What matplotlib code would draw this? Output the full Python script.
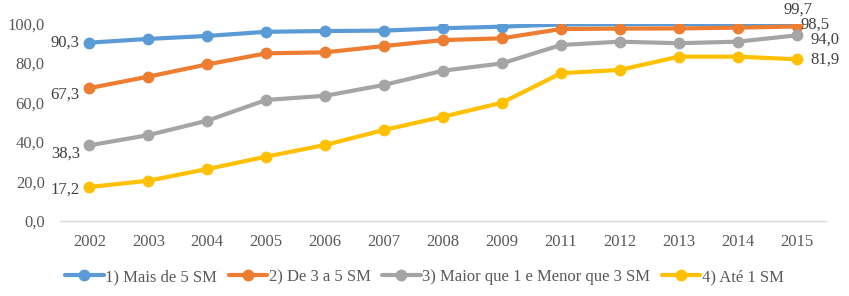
import matplotlib
matplotlib.use("Agg")
import matplotlib.pyplot as plt

years = ["2002", "2003", "2004", "2005", "2006", "2007", "2008", "2009",
         "2011", "2012", "2013", "2014", "2015"]
mais5 = [90.3, 92.2, 93.7, 95.8, 96.2, 96.4, 97.6, 98.4, 99.5, 99.6, 99.7, 99.7, 99.7]
de3a5 = [67.3, 73.1, 79.3, 84.9, 85.4, 88.6, 91.6, 92.5, 97.2, 97.4, 97.5, 97.9, 98.5]
maior1 = [38.3, 43.5, 50.8, 61.3, 63.4, 68.9, 76.1, 79.8, 89.1, 90.8, 90.0, 90.8, 94.0]
ate1 = [17.2, 20.4, 26.3, 32.6, 38.5, 46.1, 52.8, 59.9, 74.8, 76.5, 83.2, 83.2, 81.9]
series_names = ["1) Mais de 5 SM", "2) De 3 a 5 SM",
                "3) Maior que 1 e Menor que 3 SM", "4) Até 1 SM"]
yticks = [0, 20, 40, 60, 80, 100]

colors = ["#5B9BD5", "#ED7D31", "#A5A5A5", "#FFC000"]
plt.rcParams['font.family'] = ['Liberation Serif', 'DejaVu Serif']
txt = "#595959"
fs = 12

fig = plt.figure(figsize=(8.49, 2.96), dpi=100)
ax = fig.add_axes([60/849, 1-221/296, (826-60)/849, (221-23.5)/296])

x = list(range(len(years)))
data = [mais5, de3a5, maior1, ate1]
for vals, c, name in zip(data, colors, series_names):
    ax.plot(x, vals, color=c, lw=3, marker='o', ms=7.5, label=name,
            solid_capstyle='round')

ax.set_xlim(-0.5, len(years) - 0.5)
ax.set_ylim(0, 100)
ax.set_yticks(yticks)
ax.set_yticklabels([f"{v:.1f}".replace('.', ',') for v in yticks])
ax.set_xticks(x)
ax.set_xticklabels(years)
ax.tick_params(axis='both', length=0, labelsize=fs, colors=txt)
ax.tick_params(axis='y', pad=11)
ax.tick_params(axis='x', pad=9)
for s in ['top', 'right', 'left']:
    ax.spines[s].set_visible(False)
ax.spines['bottom'].set_color('#D9D9D9')
ax.spines['bottom'].set_linewidth(1)

def fmt(v):
    return f"{v:.1f}".replace('.', ',')

lab_col = "#404040"
# left labels
offs_left = [0, -5, -6, -2]
for vals, dy in zip(data, offs_left):
    ax.annotate(fmt(vals[0]), (x[0], vals[0]), xytext=(-7, dy),
                textcoords='offset points', ha='right', va='center',
                fontsize=fs, color=lab_col)
# right labels
ax.annotate(fmt(mais5[-1]), (x[-1], mais5[-1]), xytext=(1, 5),
            textcoords='offset points', ha='center', va='bottom',
            fontsize=fs, color=lab_col)
ax.annotate(fmt(de3a5[-1]), (x[-1], de3a5[-1]), xytext=(3, 1),
            textcoords='offset points', ha='left', va='center',
            fontsize=fs, color=lab_col)
ax.annotate(fmt(maior1[-1]), (x[-1], maior1[-1]), xytext=(10, -3),
            textcoords='offset points', ha='left', va='center',
            fontsize=fs, color=lab_col)
ax.annotate(fmt(ate1[-1]), (x[-1], ate1[-1]), xytext=(10, 0),
            textcoords='offset points', ha='left', va='center',
            fontsize=fs, color=lab_col)

leg = fig.legend(loc='center', bbox_to_anchor=(0.5, 1-277/296), ncol=4,
                 frameon=False, fontsize=fs, handlelength=2.3,
                 handletextpad=0.1, columnspacing=0.7, borderaxespad=0)
for t in leg.get_texts():
    t.set_color(txt)

fig.savefig("out.png", dpi=100)
